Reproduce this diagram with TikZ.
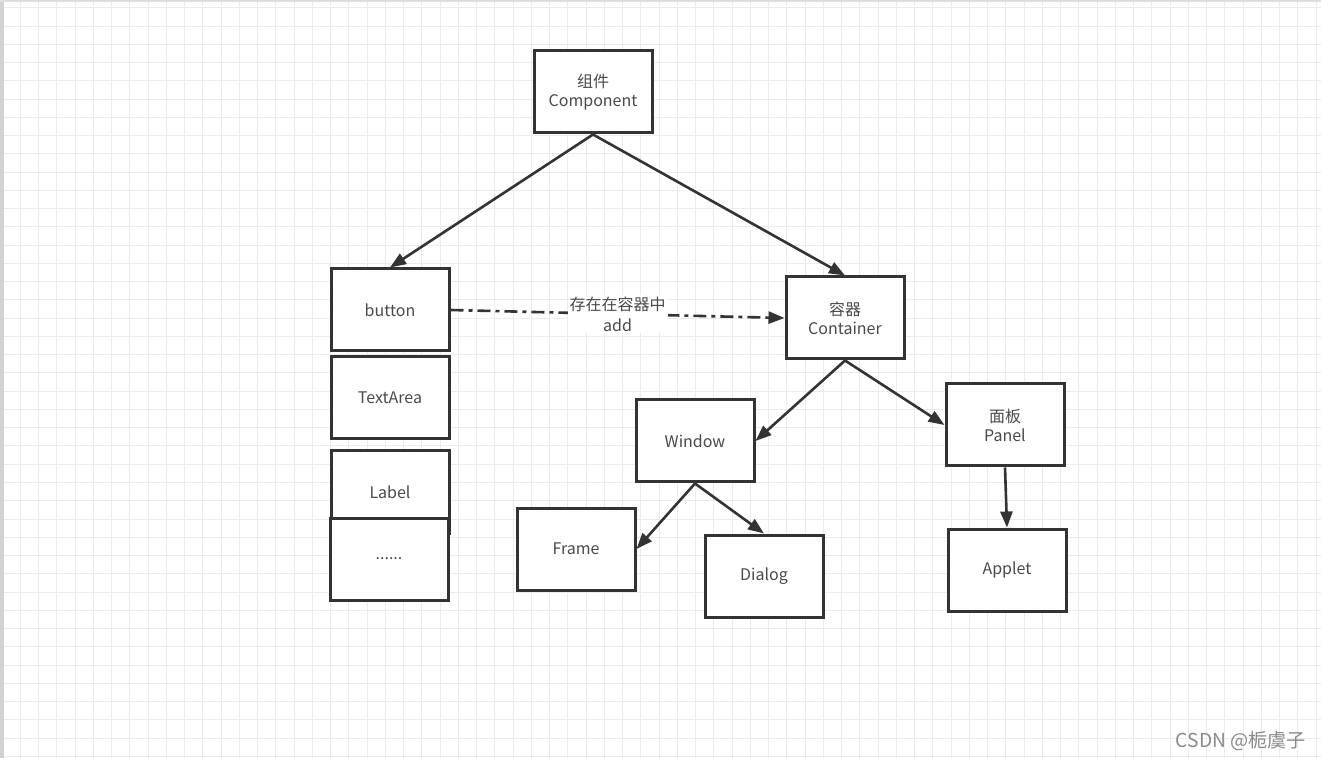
\documentclass[tikz,border=0pt]{standalone}
\usepackage{fontspec}
\setmainfont{Noto Sans CJK SC}
\usetikzlibrary{arrows.meta}
\definecolor{gridc}{HTML}{ECECEC}
\definecolor{edgec}{HTML}{333333}
\definecolor{textc}{HTML}{4A4A4A}
\definecolor{wmc}{HTML}{8A8A8A}
\tikzset{
  boxnode/.style={draw=edgec, line width=1.5pt, fill=white, minimum width=59pt, minimum height=41pt,
    align=center, text=textc, font=\fontsize{8}{9.5}\selectfont, inner sep=1pt},
  arr/.style={draw=edgec, line width=1.3pt, -{Triangle[length=8pt,width=6pt]}},
  dasharr/.style={draw=edgec, line width=1.3pt, dash pattern=on 6.5pt off 2.5pt on 2pt off 2.5pt,
    -{Triangle[length=8pt,width=6pt]}},
}
\begin{document}
\begin{tikzpicture}[x=0.5pt,y=-0.5pt]
\useasboundingbox (0,0) rectangle (1321,758);
\fill[white] (0,0) rectangle (1321,758);
% grid
\foreach \i in {0,...,72} {
  \draw[gridc, line width=0.5pt] ({2+18.25*\i},0) -- ({2+18.25*\i},758);
}
\foreach \j in {0,...,41} {
  \draw[gridc, line width=0.5pt] (0,{8+18.25*\j}) -- (1321,{8+18.25*\j});
}
\fill[gray!35] (0,0) rectangle (4,758);
\fill[gray!25] (0,0) rectangle (1321,2);

% nodes
\node[boxnode] (comp) at (593,92) {组件\\Component};
\node[boxnode] (button) at (390,310) {button};
\node[boxnode] (textarea) at (390,398) {TextArea};
\node[boxnode] (label) at (390,492) {Label};
\node[boxnode] (dots) at (389,559) {......};
\node[boxnode] (cont) at (845,318) {容器\\Container};
\node[boxnode] (win) at (695,441) {Window};
\node[boxnode] (panel) at (1005,425) {面板\\Panel};
\node[boxnode] (frame) at (576,549) {Frame};
\node[boxnode] (dialog) at (764,576) {Dialog};
\node[boxnode] (applet) at (1007,570) {Applet};

% connectors
\draw[arr] (comp.south) -- (button.north);
\draw[arr] (comp.south) -- (cont.north);
\draw[dasharr] (button.east) -- node[fill=white, inner sep=1pt, align=center, text=textc,
   font=\fontsize{8}{10.5}\selectfont, pos=0.5] (addlabel) {存在在容器中\\add} (cont.west);
\draw[arr] (cont.south) -- (win.east);
\draw[arr] (cont.south) -- (panel.west);
\draw[arr] (win.south) -- (frame.east);
\draw[arr] (win.south) -- (dialog.north);
\draw[arr] (panel.south) -- (applet.north);

% watermark
\node[text=wmc, font=\fontsize{9.6}{11}\selectfont, inner sep=0pt] (wm) at (1241,741) {CSDN @栀虞子};
\end{tikzpicture}
\end{document}
